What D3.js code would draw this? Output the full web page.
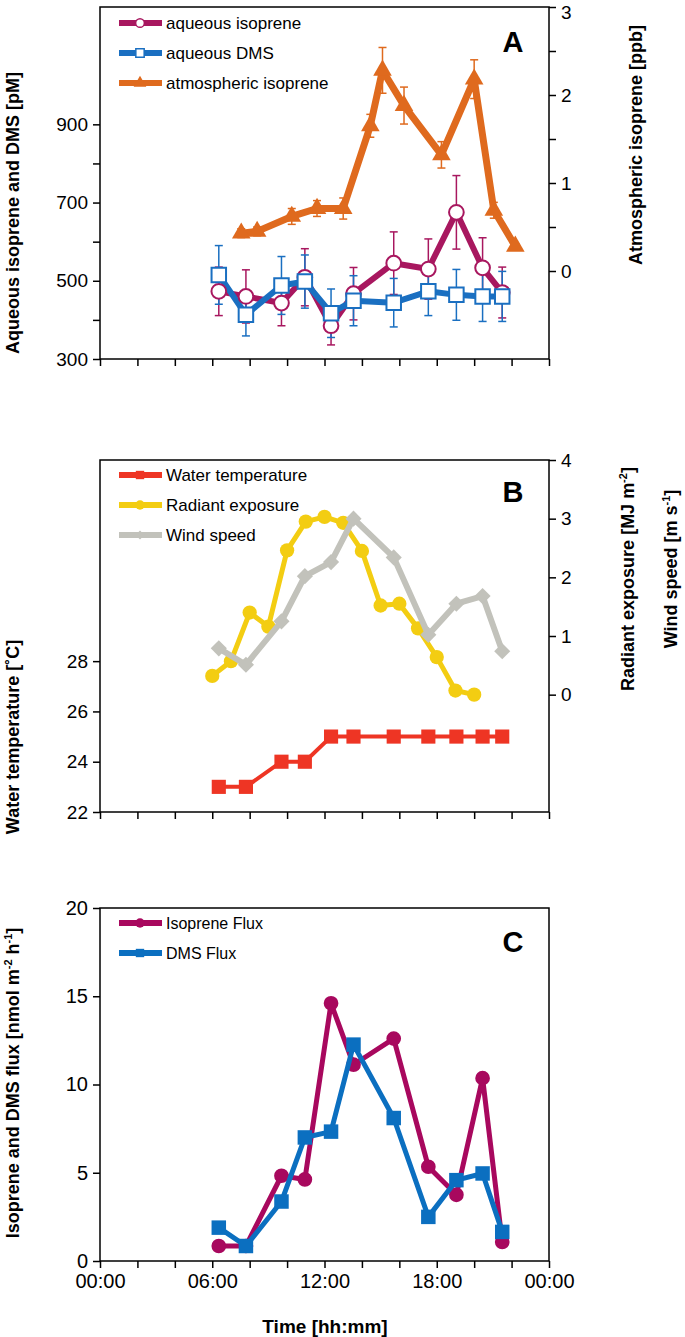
<!DOCTYPE html>
<html>
<head>
<meta charset="utf-8">
<script src="https://cdn.jsdelivr.net/npm/d3@7"></script>
<style>
  body { margin: 0; background: #fff; }
  svg { display: block; font-family: "Liberation Sans", Arial, sans-serif; }
  .axis path, .axis line { stroke: #000; stroke-width: 1.5; }
  .axis text { fill: #000; }
</style>
</head>
<body>
<div id="chart"></div>
<script>
// sampling times (hours of day)
const sampleHours = [6.35, 7.8, 9.7, 10.95, 12.35, 13.55, 15.7, 17.55, 19.05, 20.45, 21.5];
const atmHours = [7.55, 8.4, 10.25, 11.6, 13.0, 14.45, 15.1, 16.25, 18.25, 20.0, 21.05, 22.2];
const radiantHours = [6, 7, 8, 9, 10, 11, 12, 13, 14, 15, 16, 17, 18, 19, 20];

// panel A
const aqIsoprene = [473, 460, 443, 509, 385, 467, 545, 530, 675, 533, 470];
const aqIsopreneErr = [62, 68, 58, 73, 49, 67, 80, 77, 94, 77, 65];
const aqDMS = [515, 413, 488, 498, 417, 449, 444, 473, 464, 460, 460];
const aqDMSErr = [75, 54, 74, 68, 62, 64, 62, 62, 65, 64, 64];
const atmIsoprene = [0.43, 0.45, 0.62, 0.71, 0.71, 1.65, 2.28, 1.88, 1.32, 2.18, 0.69, 0.28];
const atmIsopreneErr = [0.05, 0.05, 0.09, 0.09, 0.12, 0.13, 0.26, 0.21, 0.15, 0.22, 0.09, 0.03];

// panel B
const waterTemp = [23, 23, 24, 24, 25, 25, 25, 25, 25, 25, 25];
const radiantExposure = [0.32, 0.57, 1.40, 1.16, 2.46, 2.95, 3.03, 2.93, 2.45, 1.52, 1.55, 1.13, 0.64, 0.07, 0.0];
const windSpeed = [0.79, 0.51, 1.25, 2.02, 2.26, 3.0, 2.34, 1.02, 1.55, 1.68, 0.74];

// panel C
const isopreneFlux = [0.85, 0.85, 4.83, 4.62, 14.6, 11.12, 12.6, 5.34, 3.75, 10.36, 1.08];
const dmsFlux = [1.89, 0.85, 3.37, 7.0, 7.33, 12.26, 8.1, 2.5, 4.58, 4.96, 1.65];

// ticks
const hourTicks = [0, 2, 4, 6, 8, 10, 12, 14, 16, 18, 20, 22, 24];
const hourLabels = {0: "00:00", 6: "06:00", 12: "12:00", 18: "18:00", 24: "00:00"};
const aLeftTicks = [300, 400, 500, 600, 700, 800, 900];
const aRightTicks = [0, 0.5, 1, 1.5, 2, 2.5, 3];
const bLeftTicks = [22, 24, 26, 28];
const bRightTicks = [0, 1, 2, 3, 4];
const cTicks = [0, 5, 10, 15, 20];

const W = 685, H = 1337;
const left = 100, right = 549;

const svg = d3.select('#chart').append('svg')
    .attr('width', W)
    .attr('height', H);

const x = d3.scaleLinear().domain([0, 24]).range([left, right]);

function zip(xs, ys, es) {
    return xs.map((h, i) => ({ h, v: ys[i], e: es ? es[i] : 0 }));
}

function frame(top, bottom) {
    svg.append('rect')
        .attr('x', left).attr('y', top)
        .attr('width', right - left).attr('height', bottom - top)
        .attr('fill', 'none').attr('stroke', '#000').attr('stroke-width', 1.5);
}

function bottomAxis(bottom, withLabels, fontSize) {
    const g = svg.append('g')
        .attr('class', 'axis')
        .attr('transform', `translate(0,${bottom})`)
        .call(d3.axisBottom(x).tickValues(hourTicks).tickSize(7).tickPadding(6)
            .tickFormat(d => withLabels ? (hourLabels[d] || '') : ''));
    g.select('.domain').remove();
    g.selectAll('text').attr('font-size', fontSize);
}

function sideAxis(axisFn, pos, scale, ticks, labelFn, fontSize) {
    const g = svg.append('g')
        .attr('class', 'axis')
        .attr('transform', `translate(${pos},0)`)
        .call(axisFn(scale).tickValues(ticks).tickSize(7).tickPadding(5).tickFormat(labelFn));
    g.select('.domain').remove();
    g.selectAll('text').attr('font-size', fontSize);
    return g;
}

function drawLine(data, y, color, width) {
    svg.append('path')
        .datum(data)
        .attr('fill', 'none')
        .attr('stroke', color)
        .attr('stroke-width', width)
        .attr('stroke-linejoin', 'round')
        .attr('d', d3.line().x(d => x(d.h)).y(d => y(d.v)));
}

function drawErrors(data, y, color) {
    const g = svg.append('g').attr('stroke', color).attr('stroke-width', 1.5);
    data.forEach(d => {
        const cx = x(d.h);
        g.append('line').attr('x1', cx).attr('x2', cx).attr('y1', y(d.v - d.e)).attr('y2', y(d.v + d.e));
        g.append('line').attr('x1', cx - 4).attr('x2', cx + 4).attr('y1', y(d.v + d.e)).attr('y2', y(d.v + d.e));
        g.append('line').attr('x1', cx - 4).attr('x2', cx + 4).attr('y1', y(d.v - d.e)).attr('y2', y(d.v - d.e));
    });
}

function drawMarkers(data, y, type, size, fill, stroke, rotate) {
    svg.append('g').selectAll('path')
        .data(data)
        .enter()
        .append('path')
        .attr('transform', d => `translate(${x(d.h)},${y(d.v)}) rotate(${rotate || 0})`)
        .attr('d', d3.symbol().type(type).size(size))
        .attr('fill', fill)
        .attr('stroke', stroke || 'none')
        .attr('stroke-width', 2);
}

function legend(items, top) {
    items.forEach((it, i) => {
        const yy = top + i * 30;
        svg.append('line')
            .attr('x1', 119).attr('x2', 162).attr('y1', yy).attr('y2', yy)
            .attr('stroke', it.color).attr('stroke-width', 6);
        svg.append('path')
            .attr('transform', `translate(140,${yy}) rotate(${it.rotate || 0})`)
            .attr('d', d3.symbol().type(it.type).size(it.size))
            .attr('fill', it.fill)
            .attr('stroke', it.stroke || 'none')
            .attr('stroke-width', 1.5);
        svg.append('text')
            .attr('x', 166).attr('y', yy)
            .attr('dy', '0.35em')
            .attr('font-size', it.fontSize || 17)
            .text(it.label);
    });
}

function panelLetter(letter, baseline) {
    svg.append('text')
        .attr('x', 513).attr('y', baseline)
        .attr('text-anchor', 'middle')
        .attr('font-size', 29).attr('font-weight', 'bold')
        .text(letter);
}

// rotated axis title; parts = [[text, isSuperscript], ...]
function axisTitle(cx, cy, angle, parts) {
    const t = svg.append('text')
        .attr('transform', `translate(${cx},${cy}) rotate(${angle})`)
        .attr('text-anchor', 'middle')
        .attr('dy', '0.35em')
        .attr('font-size', 18).attr('font-weight', 'bold');
    parts.forEach(p => {
        const s = t.append('tspan').text(p[0]);
        if (p[1]) s.attr('font-size', 11).attr('baseline-shift', '60%');
    });
}

const fmtInt = d => d;

// ---------- Panel A ----------
const aTop = 7, aBottom = 359;
const yA = d3.scaleLinear().domain([300, 1200]).range([aBottom, aTop]);
const yA2 = d3.scaleLinear().domain([-1, 3]).range([aBottom, aTop]);

bottomAxis(aBottom, false, 20);
sideAxis(d3.axisLeft, left, yA, aLeftTicks, d => (d - 300) % 200 === 0 ? d : '', 19);
const aRight = sideAxis(d3.axisRight, right, yA2, aRightTicks, d => Number.isInteger(d) ? d : '', 19);
// keep the top label inside the page
aRight.selectAll('.tick').filter(d => d === 3).select('text').attr('dy', '0.62em');
frame(aTop, aBottom);

const isoData = zip(sampleHours, aqIsoprene, aqIsopreneErr);
const dmsData = zip(sampleHours, aqDMS, aqDMSErr);
const atmData = zip(atmHours, atmIsoprene, atmIsopreneErr);

drawErrors(isoData, yA, '#a8175f');
drawLine(isoData, yA, '#a8175f', 6);
drawErrors(dmsData, yA, '#1a6fc1');
drawLine(dmsData, yA, '#1a6fc1', 6);
drawMarkers(isoData, yA, d3.symbolCircle, 170, '#fff', '#a8175f');
drawMarkers(dmsData, yA, d3.symbolSquare, 210, '#fff', '#1a6fc1');
drawErrors(atmData, yA2, '#df6a1e');
drawLine(atmData, yA2, '#df6a1e', 7);
drawMarkers(atmData, yA2, d3.symbolTriangle, 150, '#df6a1e');

legend([
    { label: 'aqueous isoprene', color: '#a8175f', type: d3.symbolCircle, size: 60, fill: '#fff', stroke: '#a8175f' },
    { label: 'aqueous DMS', color: '#1a6fc1', type: d3.symbolSquare, size: 70, fill: '#fff', stroke: '#1a6fc1' },
    { label: 'atmospheric isoprene', color: '#df6a1e', type: d3.symbolTriangle, size: 70, fill: '#df6a1e' }
], 23);
panelLetter('A', 52);

axisTitle(13, 213, -90, [['Aqueous isoprene and DMS [pM]']]);
axisTitle(636, 145, -90, [['Atmospheric isoprene [ppb]']]);

// ---------- Panel B ----------
const bTop = 460, bBottom = 812;
const yB = d3.scaleLinear().domain([22, 36]).range([bBottom, bTop]);
const yB2 = d3.scaleLinear().domain([-2, 4]).range([bBottom, bTop]);

bottomAxis(bBottom, false, 20);
sideAxis(d3.axisLeft, left, yB, bLeftTicks, fmtInt, 19);
sideAxis(d3.axisRight, right, yB2, bRightTicks, fmtInt, 19);
frame(bTop, bBottom);

const tempData = zip(sampleHours, waterTemp);
const radData = zip(radiantHours, radiantExposure);
const windData = zip(sampleHours, windSpeed);

drawLine(tempData, yB, '#ee3524', 4);
drawMarkers(tempData, yB, d3.symbolSquare, 200, '#ee3524');
drawLine(radData, yB2, '#f3cd12', 5);
drawMarkers(radData, yB2, d3.symbolCircle, 160, '#f3cd12');
drawLine(windData, yB2, '#c2c2bb', 6);
drawMarkers(windData, yB2, d3.symbolSquare, 130, '#c2c2bb', null, 45);

legend([
    { label: 'Water temperature', color: '#ee3524', type: d3.symbolSquare, size: 70, fill: '#ee3524' },
    { label: 'Radiant exposure', color: '#f3cd12', type: d3.symbolCircle, size: 70, fill: '#f3cd12' },
    { label: 'Wind speed', color: '#c2c2bb', type: d3.symbolSquare, size: 40, fill: '#c2c2bb', rotate: 45 }
], 475);
panelLetter('B', 502);

axisTitle(13, 737, -90, [['Water temperature [˚C]']]);
axisTitle(628, 579, -90, [['Radiant exposure [MJ m'], ['-2', true], [']']]);
axisTitle(671, 569, -90, [['Wind speed [m s'], ['-1', true], [']']]);

// ---------- Panel C ----------
const cTop = 908, cBottom = 1261;
const yC = d3.scaleLinear().domain([0, 20]).range([cBottom, cTop]);

bottomAxis(cBottom, true, 20);
sideAxis(d3.axisLeft, left, yC, cTicks, fmtInt, 20);
frame(cTop, cBottom);

const isoFluxData = zip(sampleHours, isopreneFlux);
const dmsFluxData = zip(sampleHours, dmsFlux);

drawLine(isoFluxData, yC, '#a8085e', 5);
drawMarkers(isoFluxData, yC, d3.symbolCircle, 170, '#a8085e');
drawLine(dmsFluxData, yC, '#0b6fc0', 5);
drawMarkers(dmsFluxData, yC, d3.symbolSquare, 210, '#0b6fc0');

legend([
    { label: 'Isoprene Flux', color: '#a8085e', type: d3.symbolCircle, size: 70, fill: '#a8085e', fontSize: 16 },
    { label: 'DMS Flux', color: '#0b6fc0', type: d3.symbolSquare, size: 70, fill: '#0b6fc0', fontSize: 16 }
], 923);
panelLetter('C', 952);

axisTitle(13, 1083, -90, [['Isoprene and DMS flux [nmol m'], ['-2', true], [' h'], ['-1', true], [']']]);

svg.append('text')
    .attr('x', 325).attr('y', 1326)
    .attr('dy', '0.35em')
    .attr('text-anchor', 'middle')
    .attr('font-size', 19).attr('font-weight', 'bold')
    .text('Time [hh:mm]');
</script>
</body>
</html>
